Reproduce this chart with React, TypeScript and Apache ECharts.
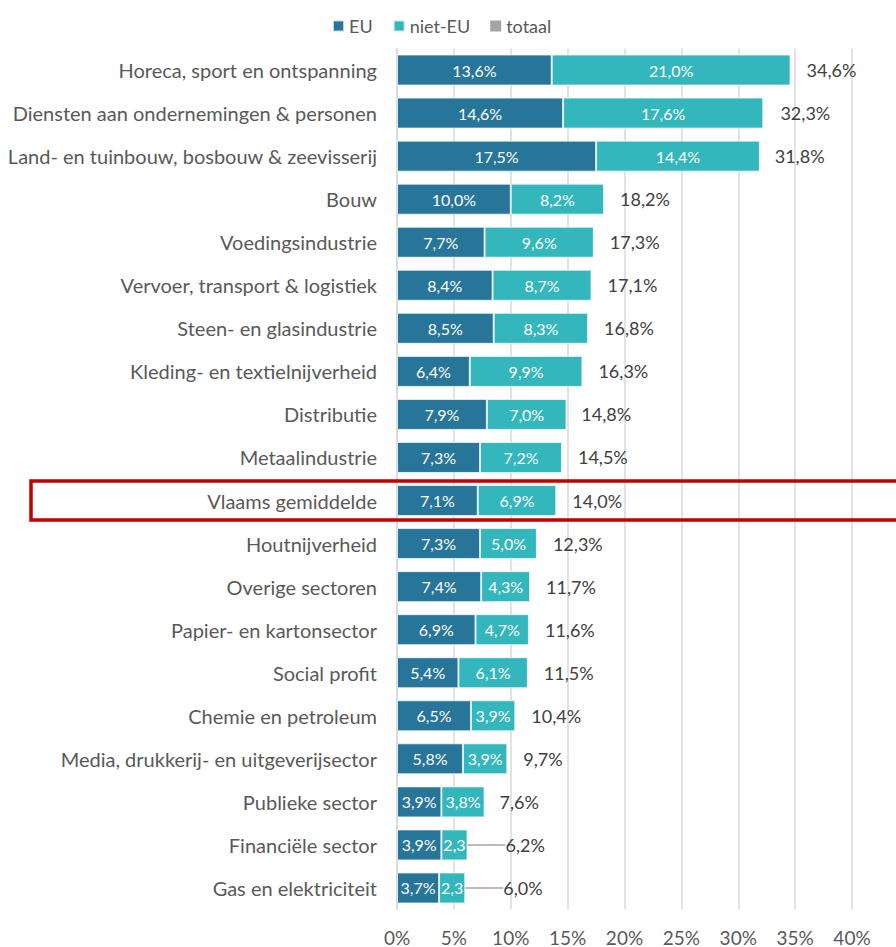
import React, { useEffect, useRef } from "react";
import * as echarts from "echarts";

const categories = [
  "Horeca, sport en ontspanning",
  "Diensten aan ondernemingen & personen",
  "Land- en tuinbouw, bosbouw & zeevisserij",
  "Bouw",
  "Voedingsindustrie",
  "Vervoer, transport & logistiek",
  "Steen- en glasindustrie",
  "Kleding- en textielnijverheid",
  "Distributie",
  "Metaalindustrie",
  "Vlaams gemiddelde",
  "Houtnijverheid",
  "Overige sectoren",
  "Papier- en kartonsector",
  "Social profit",
  "Chemie en petroleum",
  "Media, drukkerij- en uitgeverijsector",
  "Publieke sector",
  "Financiële sector",
  "Gas en elektriciteit",
];
const euValues = [13.6, 14.6, 17.5, 10.0, 7.7, 8.4, 8.5, 6.4, 7.9, 7.3, 7.1, 7.3, 7.4, 6.9, 5.4, 6.5, 5.8, 3.9, 3.9, 3.7];
const nietEuValues = [21.0, 17.6, 14.4, 8.2, 9.6, 8.7, 8.3, 9.9, 7.0, 7.2, 6.9, 5.0, 4.3, 4.7, 6.1, 3.9, 3.9, 3.8, 2.3, 2.3];
const totaalValues = [34.6, 32.3, 31.8, 18.2, 17.3, 17.1, 16.8, 16.3, 14.8, 14.5, 14.0, 12.3, 11.7, 11.6, 11.5, 10.4, 9.7, 7.6, 6.2, 6.0];
const xTicks = { min: 0, max: 40, interval: 5 };

const FONT = "Lato";
const fmt = (v: number) => v.toFixed(1).replace(".", ",") + "%";

export default function App() {
  const ref = useRef<HTMLDivElement>(null);
  useEffect(() => {
    document.body.style.margin = "0";
    const chart = echarts.init(ref.current!, null, { renderer: "svg" });
    const segLabel = (v: number) =>
      v < 3 ? { width: 29, overflow: "truncate", ellipsis: "" } : {};
    const n = totaalValues.length;
    chart.setOption({
      animation: false,
      textStyle: { fontFamily: FONT },
      legend: {
        left: 327,
        top: 12,
        itemWidth: 11,
        itemHeight: 11,
        itemGap: 20,
        icon: "rect",
        textStyle: { fontSize: 18, color: "#595959", fontFamily: FONT },
        data: [
          { name: "EU" },
          { name: "niet-EU" },
          { name: "totaal", itemStyle: { color: "#A5A5A5" } },
        ],
      },
      grid: { left: 397, right: 44, top: 48.5, bottom: 37.5, containLabel: false },
      xAxis: {
        type: "value",
        min: xTicks.min,
        max: xTicks.max,
        interval: xTicks.interval,
        axisLabel: {
          formatter: "{value}%",
          fontSize: 19,
          color: "#595959",
          margin: 18,
          fontFamily: FONT,
        },
        axisLine: { show: false },
        axisTick: { show: false },
        splitLine: { lineStyle: { color: "#D9D9D9", width: 1.5 } },
      },
      yAxis: {
        type: "category",
        inverse: true,
        data: categories,
        axisLabel: { fontSize: 20, color: "#595959", margin: 20, fontFamily: FONT },
        axisLine: { show: true, lineStyle: { color: "#D9D9D9", width: 1.5 } },
        axisTick: { show: false },
      },
      series: [
        {
          name: "EU",
          type: "bar",
          stack: "a",
          barWidth: 31,
          barGap: "-100%",
          data: euValues.map((v) => ({ value: v, label: segLabel(v) })),
          itemStyle: { color: "#27769A", borderColor: "rgba(255,255,255,0.7)", borderWidth: 1 },
          label: {
            show: true,
            position: "inside",
            color: "#fff",
            fontSize: 16,
            fontFamily: FONT,
            formatter: (p: any) => fmt(p.value),
          },
          z: 3,
        },
        {
          name: "niet-EU",
          type: "bar",
          stack: "a",
          barWidth: 31,
          barGap: "-100%",
          data: nietEuValues.map((v) => ({ value: v, label: segLabel(v) })),
          itemStyle: { color: "#34B7BC", borderColor: "rgba(255,255,255,0.7)", borderWidth: 1 },
          label: {
            show: true,
            position: "inside",
            color: "#fff",
            fontSize: 16,
            fontFamily: FONT,
            formatter: (p: any) => fmt(p.value),
          },
          z: 3,
        },
        {
          name: "totaal",
          type: "bar",
          barWidth: 31,
          barGap: "-100%",
          data: totaalValues.map((v, i) => ({
            value: v,
            labelLine: { show: i >= n - 2 },
          })),
          itemStyle: { color: "rgba(0,0,0,0)" },
          label: {
            show: true,
            position: "right",
            distance: 16,
            color: "#404040",
            fontSize: 18,
            fontFamily: FONT,
            formatter: (p: any) => fmt(p.value),
          },
          labelLine: { show: false, lineStyle: { color: "#A5A5A5", width: 1.5 } },
          labelLayout: (p: any) => (p.dataIndex >= n - 2 ? { dx: 22 } : {}),
          z: 1,
        },
      ],
      graphic: [
        {
          type: "rect",
          shape: { x: 31, y: 481, width: 880, height: 39 },
          style: { fill: "none", stroke: "#C00000", lineWidth: 3.5 },
          z: 10,
        },
      ],
    });
    return () => chart.dispose();
  }, []);
  return <div ref={ref} style={{ width: 896, height: 947 }} />;
}
